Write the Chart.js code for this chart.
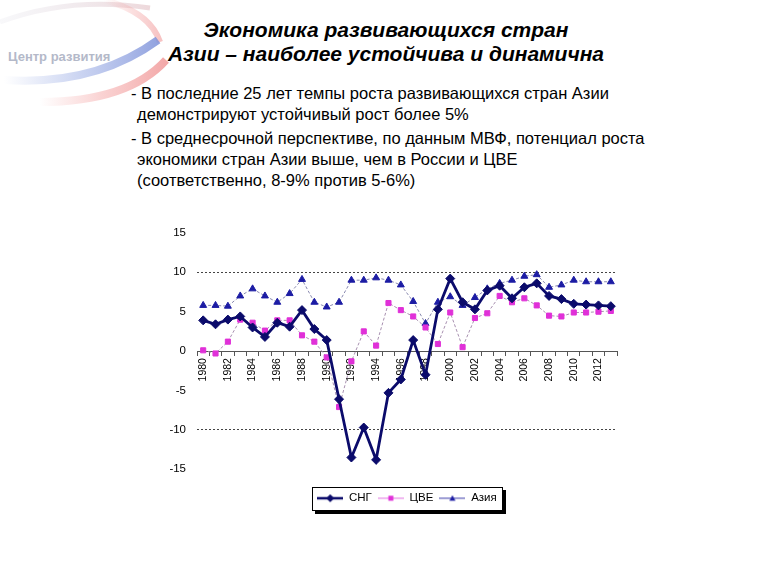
<!DOCTYPE html>
<html>
<head>
<meta charset="utf-8">
<script src="https://cdn.jsdelivr.net/npm/chart.js@4.4.1/dist/chart.umd.min.js"></script>
<style>
  html,body{margin:0;padding:0;background:#fff;}
  body{width:768px;height:576px;position:relative;overflow:hidden;font-family:"Liberation Sans",Arial,sans-serif;}
  .title{position:absolute;left:0;width:772px;top:18px;text-align:center;font-weight:bold;font-style:italic;font-size:21px;line-height:24px;color:#000;}
  .ln{position:absolute;font-size:16.5px;line-height:20px;color:#000;white-space:nowrap;}
  #logo{position:absolute;left:0;top:0;}
  #c{position:absolute;left:130px;top:215px;}
</style>
</head>
<body>
<svg id="logo" width="175" height="115" viewBox="0 0 175 115">
  <defs>
    <linearGradient id="gb" x1="0" y1="0" x2="1" y2="0">
      <stop offset="0" stop-color="#9fb0e6" stop-opacity="0"/>
      <stop offset="0.5" stop-color="#9fb0e6" stop-opacity="0.55"/>
      <stop offset="1" stop-color="#7f93da" stop-opacity="0.85"/>
    </linearGradient>
    <linearGradient id="gr" x1="0" y1="0" x2="1" y2="0">
      <stop offset="0" stop-color="#f4a4a4" stop-opacity="0"/>
      <stop offset="0.5" stop-color="#f4a4a4" stop-opacity="0.5"/>
      <stop offset="1" stop-color="#ef8c8c" stop-opacity="0.75"/>
    </linearGradient>
    <linearGradient id="gt" x1="0" y1="0" x2="1" y2="0">
      <stop offset="0" stop-color="#dcdce6" stop-opacity="0.2"/>
      <stop offset="1" stop-color="#e6c8cc" stop-opacity="0.7"/>
    </linearGradient>
  </defs>
  <path d="M0,22 Q70,-4 150,8" stroke="url(#gt)" stroke-width="5" fill="none"/>
  <path d="M104,0 Q150,12 160,42" stroke="url(#gr)" stroke-width="6" fill="none" opacity="0.7"/>
  <path d="M4,80 Q95,86 158,40" stroke="url(#gb)" stroke-width="8" fill="none"/>
  <path d="M40,102 Q128,102 166,60" stroke="url(#gr)" stroke-width="8" fill="none"/>
  <text x="8" y="61" font-family="Liberation Sans, Arial, sans-serif" font-size="13" font-weight="bold" fill="#b4b9c9">Центр развития</text>
</svg>

<div class="title">Экономика развивающихся стран<br>Азии – наиболее устойчива и динамична</div>
<div class="ln" style="left:131px;top:82.5px;">- В последние 25 лет темпы роста развивающихся стран Азии</div>
<div class="ln" style="left:137px;top:104px;">демонстрируют устойчивый рост более 5%</div>
<div class="ln" style="left:131px;top:127.5px;">- В среднесрочной перспективе, по данным МВФ, потенциал роста</div>
<div class="ln" style="left:137px;top:148.5px;">экономики стран Азии выше, чем в России и ЦВЕ</div>
<div class="ln" style="left:137px;top:169.5px;">(соответственно, 8-9% против 5-6%)</div>

<canvas id="c" width="520" height="310"></canvas>

<script>
// ---- data ----
const years = ['1980','1981','1982','1983','1984','1985','1986','1987','1988','1989',
               '1990','1991','1992','1993','1994','1995','1996','1997','1998','1999',
               '2000','2001','2002','2003','2004','2005','2006','2007','2008','2009',
               '2010','2011','2012','2013'];
const seriesNames = ['СНГ','ЦВЕ','Азия'];
const cis  = [3.9,3.4,4.0,4.4,3.0,1.8,3.6,3.1,5.2,2.8,
              1.4,-6.1,-13.5,-9.7,-13.8,-5.3,-3.6,1.4,-3.0,5.3,
              9.2,6.2,5.3,7.7,8.3,6.7,8.1,8.6,7.0,6.6,
              6.0,5.9,5.8,5.7];
const cee  = [0.1,-0.3,1.2,4.0,3.6,2.6,3.9,3.9,2.0,1.2,
              -0.8,-7.1,-1.3,2.5,0.7,6.1,5.2,4.4,3.0,0.9,
              4.9,0.5,4.2,4.8,7.0,6.2,6.7,5.8,4.5,4.4,
              4.9,4.9,5.0,5.1];
const asia = [5.8,5.8,5.7,7.0,7.9,7.0,6.2,7.3,9.1,6.2,
              5.6,6.2,9.0,9.0,9.3,9.0,8.4,6.3,3.5,6.2,
              6.9,5.8,6.8,7.9,8.6,9.0,9.5,9.7,8.1,8.4,
              9.0,8.8,8.8,8.8];
const yTicks = {min:-15, max:15, step:5};

const FONT = '"Liberation Sans", Arial, sans-serif';
Chart.defaults.font.family = FONT;
Chart.defaults.color = '#000';

const colCis = '#0b0b6b', colCee = '#e030d8', colAsia = '#1c1ca4';

function icon(markColor, lineColor, lw, shape, r){
  const c = document.createElement('canvas');
  c.width = 26; c.height = 12;
  const g = c.getContext('2d');
  g.strokeStyle = lineColor; g.lineWidth = lw;
  g.beginPath(); g.moveTo(0,6); g.lineTo(26,6); g.stroke();
  g.fillStyle = markColor;
  g.beginPath();
  const x = 13, y = 6;
  if (shape === 'diamond'){ g.moveTo(x,y-r); g.lineTo(x+r,y); g.lineTo(x,y+r); g.lineTo(x-r,y); }
  else if (shape === 'square'){ g.rect(x-r,y-r,2*r,2*r); }
  else { g.moveTo(x,y-r); g.lineTo(x+r,y+r*0.8); g.lineTo(x-r,y+r*0.8); }
  g.closePath(); g.fill();
  return c;
}
const icons = [
  icon(colCis, colCis, 2.5, 'diamond', 4),
  icon(colCee, '#e070e0', 1, 'square', 2.5),
  icon(colAsia, '#3a3aa8', 1, 'triangle', 3)
];

const legendFrame = {
  id:'legendFrame',
  afterDraw(chart){
    const lg = chart.legend;
    if (!lg || !lg.legendHitBoxes || !lg.legendHitBoxes.length) return;
    const hb = lg.legendHitBoxes;
    const x0 = Math.round(hb[0].left - 5);
    const last = hb[hb.length-1];
    const x1 = Math.round(last.left + last.width + 5);
    const cy = hb[0].top + hb[0].height/2;
    const h = 23, y0 = Math.round(cy - 11.5);
    const g = chart.ctx;
    g.save();
    g.fillStyle = '#000';
    g.fillRect(x1+1, y0+3, 3, h);
    g.fillRect(x0+3, y0+h+1, x1-x0+1, 3);
    g.strokeStyle = '#000'; g.lineWidth = 1;
    g.strokeRect(x0+0.5, y0+0.5, x1-x0, h);
    g.restore();
  }
};

new Chart(document.getElementById('c'), {
  type: 'line',
  data: {
    labels: years,
    datasets: [
      {label: seriesNames[0], data: cis, borderColor: colCis, backgroundColor: colCis,
       borderWidth: 2.8, pointStyle: 'rectRot', pointRadius: 4.5, pointBorderWidth: 1,
       pointBackgroundColor: colCis, pointBorderColor: colCis, tension: 0},
      {label: seriesNames[1], data: cee, borderColor: '#a890b0', backgroundColor: colCee,
       borderWidth: 1, borderDash: [3,2], pointStyle: 'rect', pointRadius: 3.6, pointBorderWidth: 1,
       pointBackgroundColor: colCee, pointBorderColor: colCee, tension: 0},
      {label: seriesNames[2], data: asia, borderColor: '#8a8ab0', backgroundColor: colAsia,
       borderWidth: 1, borderDash: [3,2], pointStyle: 'triangle', pointRadius: 4, pointBorderWidth: 1,
       pointBackgroundColor: colAsia, pointBorderColor: colAsia, tension: 0}
    ]
  },
  options: {
    responsive: false,
    animation: false,
    layout: {padding: {top: 15, right: 33, bottom: 11, left: 0}},
    scales: {
      x: {
        type: 'category',
        offset: true,
        position: {y: 0},
        grid: {display: true, drawOnChartArea: false, drawTicks: true, tickLength: 4, offset: true, color: '#555'},
        border: {display: true, color: '#555', width: 1},
        ticks: {autoSkip: false, maxRotation: 90, minRotation: 90, padding: 3, color: '#000',
                font: {size: 10.5},
                callback: (v, i) => (i % 2 === 0 ? years[i] : '')}
      },
      y: {
        min: yTicks.min, max: yTicks.max,
        afterFit: s => { s.width = 67; },
        ticks: {stepSize: yTicks.step, padding: 11, color: '#000', font: {size: 11.5}},
        grid: {drawTicks: false, lineWidth: 1,
               color: c => (c.tick && (c.tick.value === 10 || c.tick.value === -10)) ? '#444' : 'rgba(0,0,0,0)'},
        border: {display: false, dash: [2,2]}
      }
    },
    plugins: {
      tooltip: {enabled: false},
      legend: {
        position: 'bottom',
        fullSize: false,
        title: {display: true, text: ' ', padding: {top: 16, bottom: 0}, font: {size: 1}},
        labels: {
          usePointStyle: true, pointStyleWidth: 26, padding: 6,
          font: {size: 11.5}, color: '#000',
          generateLabels: chart => chart.data.datasets.map((d, i) => ({
            text: d.label, pointStyle: icons[i], datasetIndex: i, hidden: false,
            fillStyle: 'rgba(0,0,0,0)', strokeStyle: 'rgba(0,0,0,0)', lineWidth: 0, fontColor: '#000'
          }))
        }
      }
    }
  },
  plugins: [legendFrame]
});
</script>
</body>
</html>
